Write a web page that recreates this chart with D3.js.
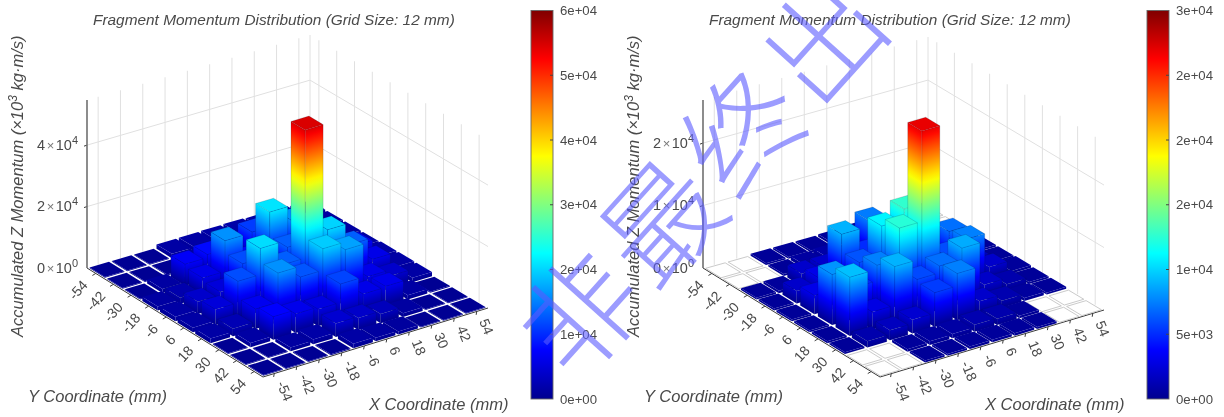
<!DOCTYPE html>
<html><head><meta charset="utf-8">
<script src="https://cdn.jsdelivr.net/npm/d3@7"></script>
<style>
html,body{margin:0;padding:0;background:#fff;overflow:hidden}
svg{display:block;filter:blur(0.45px)}
text{font-family:"Liberation Sans",Arial,sans-serif}
</style></head><body>
<svg id="c" width="1224" height="417"></svg>
<script>
// tick labels (mm) and cell centres
const gridTicks = [-54,-42,-30,-18,-6,6,18,30,42,54];
const titleText = "Fragment Momentum Distribution (Grid Size: 12 mm)";
// accumulated momentum, thousands, rows = Y (-54..54), columns = X (-54..54)
const momentumA = [
 [.25,.25,.25,1.4,1.5,1.6,1.7,1.5,1.4,1.2],
 [.25,.25,.3,1.5,2.5,3.5,3,2.5,1.5,1.2],
 [.3,1.3,7,8,6,11,7,4,2,1.2],
 [1.3,2,6,16,8,21,16,5,2.5,1.2],
 [1.5,4,5,12,9,13,8,6,7,1.5],
 [1.5,5,12,20.5,13,54.7,20,13,6,1.5],
 [1.5,2.5,6.5,16,12.5,19.5,17,6,4,1.4],
 [.3,1.4,7.5,6.2,5.5,11.5,6,6.3,1.4,.3],
 [.25,.25,1.2,1.6,4.4,3.9,3,1.2,.25,.25],
 [.25,.25,.25,.3,1.5,1.2,1,.3,.25,.25]];
const momentumB = [
 [0,0,.3,.3,.3,.4,.6,.5,0,0],
 [0,0,.3,.6,.8,1,1.5,.8,.3,0],
 [.3,.4,2,2,2.5,7.4,2.5,2,.4,.3],
 [.3,2,3,9,5,4,3,2.5,1,.3],
 [.3,3,3,6.2,11,12.7,4,7,1.5,.3],
 [.3,8.1,5,7.5,12.4,26.9,6,7.5,2,.4],
 [.3,9.4,2.8,9,5.9,7,8.8,1.9,1,.3],
 [.3,1,1.6,2.2,5.5,7.5,2,1.1,.5,.3],
 [0,0,.4,.6,.7,1.1,1,.4,0,0],
 [0,0,.3,.3,.4,.4,.4,.3,0,0]];
const zTicksA = [[0,0],[20,2],[40,4]];   // value (thousands), mantissa
const zTicksB = [[0,0],[10,1],[20,2]];
const cbarLabelsA = ["0e+00","1e+04","2e+04","3e+04","4e+04","5e+04","6e+04"];
const cbarLabelsB = ["0e+00","5e+03","1e+04","2e+04","2e+04","2e+04","3e+04"];
const watermark = ["非","最","终","出"];

const BAR = 0.8, BAR_FLAT = 0.87, TEXT = "#4a4a4a";
const jet = d3.scaleLinear()
  .domain([0,.125,.375,.625,.875,1])
  .range(["#00008f","#0000ff","#00ffff","#ffff00","#ff0000","#800000"])
  .interpolate(d3.interpolateRgb).clamp(true);

const svg = d3.select("#c");
const defs = svg.append("defs");
const grad = defs.append("linearGradient").attr("id","jet").attr("x1",0).attr("x2",0).attr("y1",1).attr("y2",0);
d3.range(0,1.001,.025).forEach(t=>grad.append("stop").attr("offset",t).attr("stop-color",jet(t)));
let gid=0;
// gradient whose iso-lines run along the base edge a->b of a face, from z=0 to the face's top
function faceGradient(a,b,top,zFrac){
  const ex=b[0]-a[0], ey=b[1]-a[1], n=Math.hypot(ex,ey), nx=-ey/n, ny=ex/n;
  const vx=top[0]-a[0], vy=top[1]-a[1], d=vx*nx+vy*ny;
  const id="f"+(gid++);
  const gr=defs.append("linearGradient").attr("id",id).attr("gradientUnits","userSpaceOnUse")
    .attr("x1",a[0]).attr("y1",a[1]).attr("x2",a[0]+nx*d).attr("y2",a[1]+ny*d);
  const steps=Math.max(1,Math.ceil(zFrac*32));
  d3.range(steps+1).forEach(i=>{const t=i/steps;gr.append("stop").attr("offset",t).attr("stop-color",jet(t*zFrac));});
  return `url(#${id})`;
}

function panel(cfg){
  const g = svg.append("g");
  const fx = d3.scaleLinear().domain([-60,60]).range([0,1]);
  const fy = d3.scaleLinear().domain([-60,60]).range([0,1]);
  const pz = d3.scaleLinear().domain([0,cfg.zmax]).range([0,cfg.boxH]);
  const col = d3.scaleLinear().domain([0,cfg.clim]).range([0,1]);
  const {L,K,B,R} = cfg;
  const P = (x,y,z=0)=>{
    const u=fx(x), v=fy(y);
    const a=(1-u)*(1-v), b=u*(1-v), c=(1-u)*v, d=u*v;
    return [a*L[0]+b*K[0]+c*B[0]+d*R[0], a*L[1]+b*K[1]+c*B[1]+d*R[1]-pz(z)];
  };
  const line=d3.line(), poly=p=>line(p)+"Z";
  // walls
  const gg=g.append("g").attr("fill","none").attr("stroke","#e0e0e0").attr("stroke-width",1);
  gridTicks.forEach(t=>{
    gg.append("path").attr("d",line([P(t,-60),P(t,-60,cfg.zmax)]));
    gg.append("path").attr("d",line([P(60,t),P(60,t,cfg.zmax)]));
  });
  cfg.zTicks.filter(d=>d[0]>0).forEach(d=>{
    gg.append("path").attr("d",line([P(-60,-60,d[0]),P(60,-60,d[0]),P(60,60,d[0])]));
  });
  gg.append("path").attr("d",line([P(60,-60),P(60,-60,cfg.zmax)]));
  // axis lines
  const ax=g.append("g").attr("fill","none").attr("stroke","#3a3a3a").attr("stroke-width",1);
  ax.append("path").attr("d",line([P(-60,-60),P(-60,60),P(60,60)]));
  g.append("path").attr("d",line([P(-60,-60),P(-60,-60,cfg.zmax)])).attr("stroke","#707070").attr("stroke-width",1.6).attr("fill","none");
  gridTicks.forEach(t=>{
    const a=P(-60,t);
    ax.append("path").attr("d",line([a,[a[0]-3.4,a[1]+2]]));
    const c=P(t,60);
    ax.append("path").attr("d",line([c,[c[0]-.6,c[1]+3.4]]));
  });
  cfg.zTicks.forEach(d=>{
    const a=P(-60,-60,d[0]);
    if(d[0]>0) ax.append("path").attr("d",line([a,[a[0]-3,a[1]+1]]));
    const t=g.append("text").attr("x",a[0]-9).attr("y",a[1]+4.5).attr("text-anchor","end").attr("font-size",14.5).attr("fill",TEXT);
    t.append("tspan").text(d[1]);
    t.append("tspan").text("×").attr("font-size",13).attr("dx",1.5).attr("fill","#777");
    t.append("tspan").text("10").attr("dx",1.5);
    t.append("tspan").text(d[0]>0?"4":"0").attr("font-size",11).attr("dy",-6);
  });
  // bars, back to front
  const bars=g.append("g");
  cfg.data.forEach((row,iy)=>{
    for(let ix=row.length-1;ix>=0;ix--){
      const z=row[ix], xc=gridTicks[ix], yc=gridTicks[iy];
      const half=12*(pz(z)<9?BAR_FLAT:BAR)/2;
      const x0=xc-half,x1=xc+half,y0=yc-half,y1=yc+half;
      if(z===0){
        bars.append("path").attr("d",poly([P(x0,y0),P(x1,y0),P(x1,y1),P(x0,y1)]))
          .attr("fill","#fff").attr("stroke","#c4c4c4").attr("stroke-width",.9);
        continue;
      }
      const f=col(z), tc=jet(f);
      bars.append("path").attr("d",poly([P(x0,y0,0),P(x0,y1,0),P(x0,y1,z),P(x0,y0,z)]))
        .attr("fill",faceGradient(P(x0,y0,0),P(x0,y1,0),P(x0,y0,z),f));
      bars.append("path").attr("d",poly([P(x0,y1,0),P(x1,y1,0),P(x1,y1,z),P(x0,y1,z)]))
        .attr("fill",faceGradient(P(x0,y1,0),P(x1,y1,0),P(x0,y1,z),f));
      bars.append("path").attr("d",poly([P(x0,y0,z),P(x1,y0,z),P(x1,y1,z),P(x0,y1,z)])).attr("fill",tc);
      if(pz(z)>=6){
        bars.append("path").attr("fill","none").attr("stroke","rgba(0,25,50,.2)").attr("stroke-width",.8)
          .attr("d",poly([P(x0,y0,z),P(x1,y0,z),P(x1,y1,z),P(x0,y1,z)])+
            line([P(x0,y1,z),P(x0,y1,0)])+line([P(x0,y0,z),P(x0,y0,0)])+line([P(x1,y1,z),P(x1,y1,0)]));
      }
    }
  });
  // rotated tick labels
  gridTicks.forEach(t=>{
    const a=P(-60,t);
    g.append("text").attr("transform",`translate(${a[0]-11},${a[1]+9}) rotate(-48)`).attr("text-anchor","end")
      .attr("dy",5).attr("font-size",14).attr("fill",TEXT).text(t);
    const c=P(t,60);
    g.append("text").attr("transform",`translate(${c[0]+7},${c[1]+8}) rotate(68)`).attr("text-anchor","start")
      .attr("dy",5).attr("font-size",14).attr("fill",TEXT).text(t);
  });
  // titles
  const it=(x,y,s,fs)=>g.append("text").attr("transform",`translate(${x},${y})`)
     .attr("font-style","italic").attr("font-size",fs).attr("fill",TEXT).text(s);
  it(L[0]+6,25,titleText,15.4);
  it(L[0]-59,402,"Y Coordinate (mm)",16.5);
  it(L[0]+282,410,"X Coordinate (mm)",16.5);
  const zl=g.append("text").attr("transform",`translate(${L[0]-64},337) rotate(-90)`).attr("font-style","italic").attr("font-size",16.5).attr("fill",TEXT);
  zl.append("tspan").text("Accumulated Z Momentum (×10");
  zl.append("tspan").text("3").attr("font-size",12).attr("dy",-6);
  zl.append("tspan").text(" kg·m/s)").attr("dy",6);
  // colour bar
  const cb=cfg.cbX, cw=22, cy=d3.scaleLinear().domain([0,cbarLabelsA.length-1]).range([399,10.5]);
  g.append("rect").attr("x",cb).attr("y",cy(6)).attr("width",cw).attr("height",cy(0)-cy(6)).attr("fill","url(#jet)").attr("stroke","#666").attr("stroke-width",.9);
  cfg.cbar.forEach((s,i)=>{
    if(i>0&&i<6) g.append("line").attr("x1",cb+cw-3).attr("x2",cb+cw).attr("y1",cy(i)).attr("y2",cy(i)).attr("stroke","#444");
    g.append("text").attr("x",cb+cw+7).attr("y",cy(i)+4.5).attr("font-size",13.2).attr("fill",TEXT).text(s);
  });
}
panel({L:[87,268],B:[263,377],R:[488,308],K:[310,203],zmax:54.7,clim:60,boxH:168,cbX:531,data:momentumA,zTicks:zTicksA,cbar:cbarLabelsA});
panel({L:[703,268],B:[880,377],R:[1104,310],K:[928,205],zmax:26.9,clim:30,boxH:168,cbX:1147,data:momentumB,zTicks:zTicksB,cbar:cbarLabelsB});
// watermark
watermark.forEach((s,i)=>{
  svg.append("text").attr("transform",`translate(${580+i*81},${313-i*91}) rotate(-48)`)
    .attr("text-anchor","middle").attr("dy","0.38em")
    .style("font-family",'"Noto Sans CJK SC"').style("font-weight",300).attr("font-size",116).attr("fill","#5a5aff").attr("fill-opacity",.6).text(s);
});
</script></body></html>
